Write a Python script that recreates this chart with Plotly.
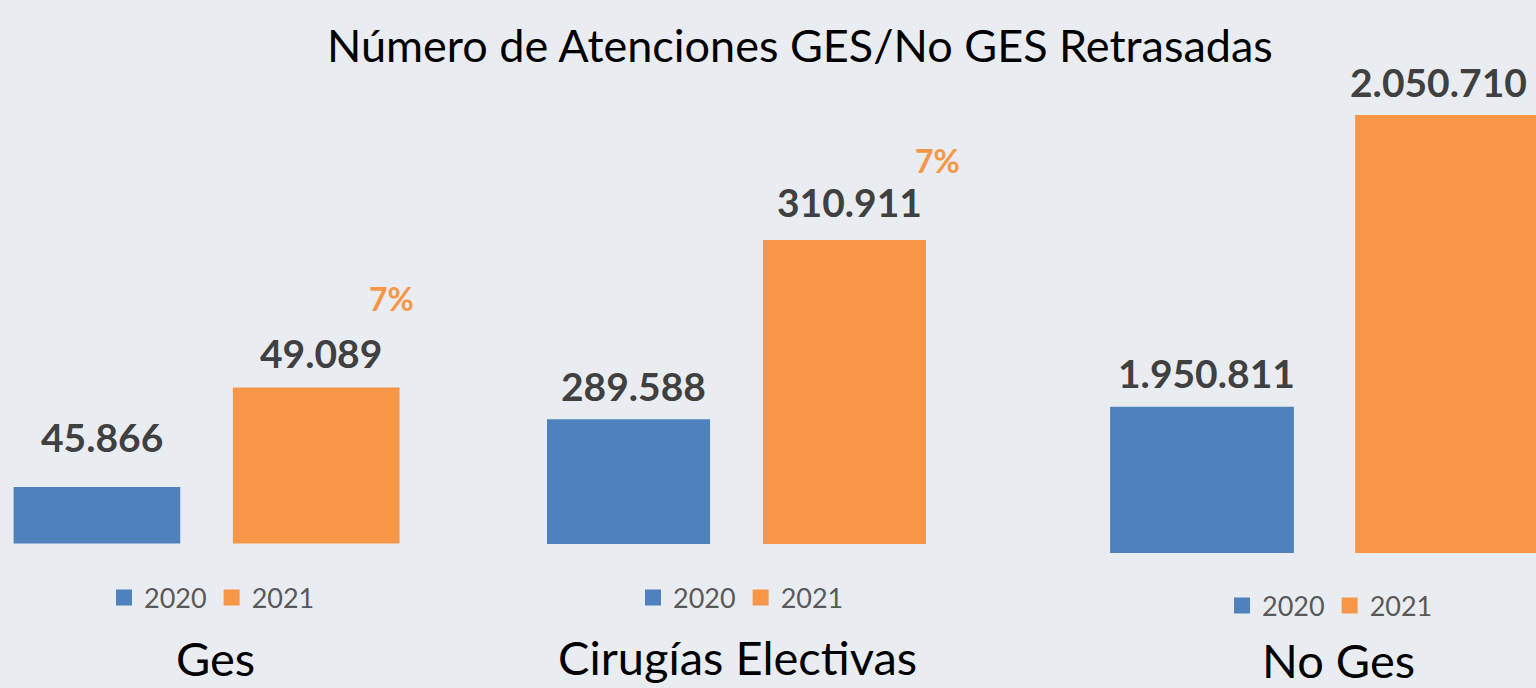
import plotly.graph_objects as go

# ---- data ----
panels = ["Ges", "Cirugías Electivas", "No Ges"]
years = ["2020", "2021"]
values_2020 = [45866, 289588, 1950811]
values_2021 = [49089, 310911, 2050710]
title_text = "Número de Atenciones GES/No GES Retrasadas"

# ---- styles ----
BG = "#E9EDF1"
C2020 = "#4F81BD"
C2021 = "#F79646"
FONT = "Lato"
W, H = 1536, 688

# per-panel layout (pixel geometry converted to paper fractions)
x_domains_px = [(0, 430), (470, 1000), (1040, 1536)]
x_ranges = [(-0.442, 1.519), (-0.734, 1.720), (-0.661, 1.363)]
y_domains_px = [(60, 543.5), (60, 544), (60, 553)]
y_ranges = [(44031, 59700), (274761, 332309), (1900703, 2069556)]
bar_widths = [0.76, 0.755, 0.75]
legend_pos_px = [(212, 598), (741, 598), (1330, 606)]
cat_label_px = [(215, 658), (737, 657), (1338, 660)]
label_yshift = [(50, 34), (33, 38), (34, 33)]
label_xshift = [(5, 5), (5, 5), (5, -9)]
pct_shift = [(75, 89), (93, 79)]

def fmt(v):
    return f"{v:,}".replace(",", ".")

fig = go.Figure()
annotations = []
layout_axes = {}
for i, name in enumerate(panels):
    sfx = "" if i == 0 else str(i + 1)
    xa, ya = "x" + sfx, "y" + sfx
    leg = "legend" + sfx
    vals = [values_2020[i], values_2021[i]]
    for j, (yr, col) in enumerate(zip(years, [C2020, C2021])):
        fig.add_trace(go.Bar(
            x=[j], y=[vals[j]], name=yr, marker_color=col, marker_line_width=0,
            width=bar_widths[i], xaxis=xa, yaxis=ya, showlegend=False,
            hoverinfo="skip",
        ))
        # legend entry (square swatch)
        fig.add_trace(go.Scatter(
            x=[None], y=[None], mode="markers", name=yr,
            marker=dict(symbol="square", size=17, color=col),
            xaxis=xa, yaxis=ya, legend=leg, showlegend=True, hoverinfo="skip",
        ))
        annotations.append(dict(
            x=j, y=vals[j], xref=xa, yref=ya, text=fmt(vals[j]), showarrow=False,
            xanchor="center", yanchor="middle",
            xshift=label_xshift[i][j], yshift=label_yshift[i][j],
            font=dict(family=FONT, size=39, color="#404040", weight="bold"),
        ))
    if i < 2:
        pct = round((vals[1] - vals[0]) / vals[0] * 100)
        annotations.append(dict(
            x=1, y=vals[1], xref=xa, yref=ya, text=f"{pct}%", showarrow=False,
            xanchor="center", yanchor="middle", xshift=pct_shift[i][0], yshift=pct_shift[i][1],
            font=dict(family=FONT, size=32, color=C2021, weight="bold"),
        ))
    cx, cy = cat_label_px[i]
    annotations.append(dict(
        x=cx / W, y=1 - cy / H, xref="paper", yref="paper", text=name, showarrow=False,
        xanchor="center", yanchor="middle",
        font=dict(family=FONT, size=47, color="#000000"),
    ))
    xd = x_domains_px[i]
    yd = y_domains_px[i]
    layout_axes["xaxis" + sfx] = dict(
        domain=[xd[0] / W, xd[1] / W], range=list(x_ranges[i]), visible=False,
        anchor=ya, fixedrange=True,
    )
    layout_axes["yaxis" + sfx] = dict(
        domain=[1 - yd[1] / H, 1 - yd[0] / H], range=list(y_ranges[i]), visible=False,
        anchor=xa, fixedrange=True,
    )
    lx, ly = legend_pos_px[i]
    layout_axes[leg] = dict(
        orientation="h", x=lx / W, y=1 - ly / H, xanchor="center", yanchor="middle",
        bgcolor="rgba(0,0,0,0)", font=dict(family=FONT, size=27, color="#595959"),
        itemclick=False, itemdoubleclick=False,
    )

annotations.append(dict(
    x=800 / W, y=1 - 45 / H, xref="paper", yref="paper", text=title_text, showarrow=False,
    xanchor="center", yanchor="middle",
    font=dict(family=FONT, size=45, color="#000000"),
))

fig.update_layout(
    width=W, height=H, margin=dict(l=0, r=0, t=0, b=0),
    paper_bgcolor=BG, plot_bgcolor=BG, barmode="overlay",
    annotations=annotations, **layout_axes,
)
fig.write_html(
    "out.html",
    config={"displayModeBar": False},
    post_script="document.body.style.margin='0';document.body.style.overflow='hidden';",
)
